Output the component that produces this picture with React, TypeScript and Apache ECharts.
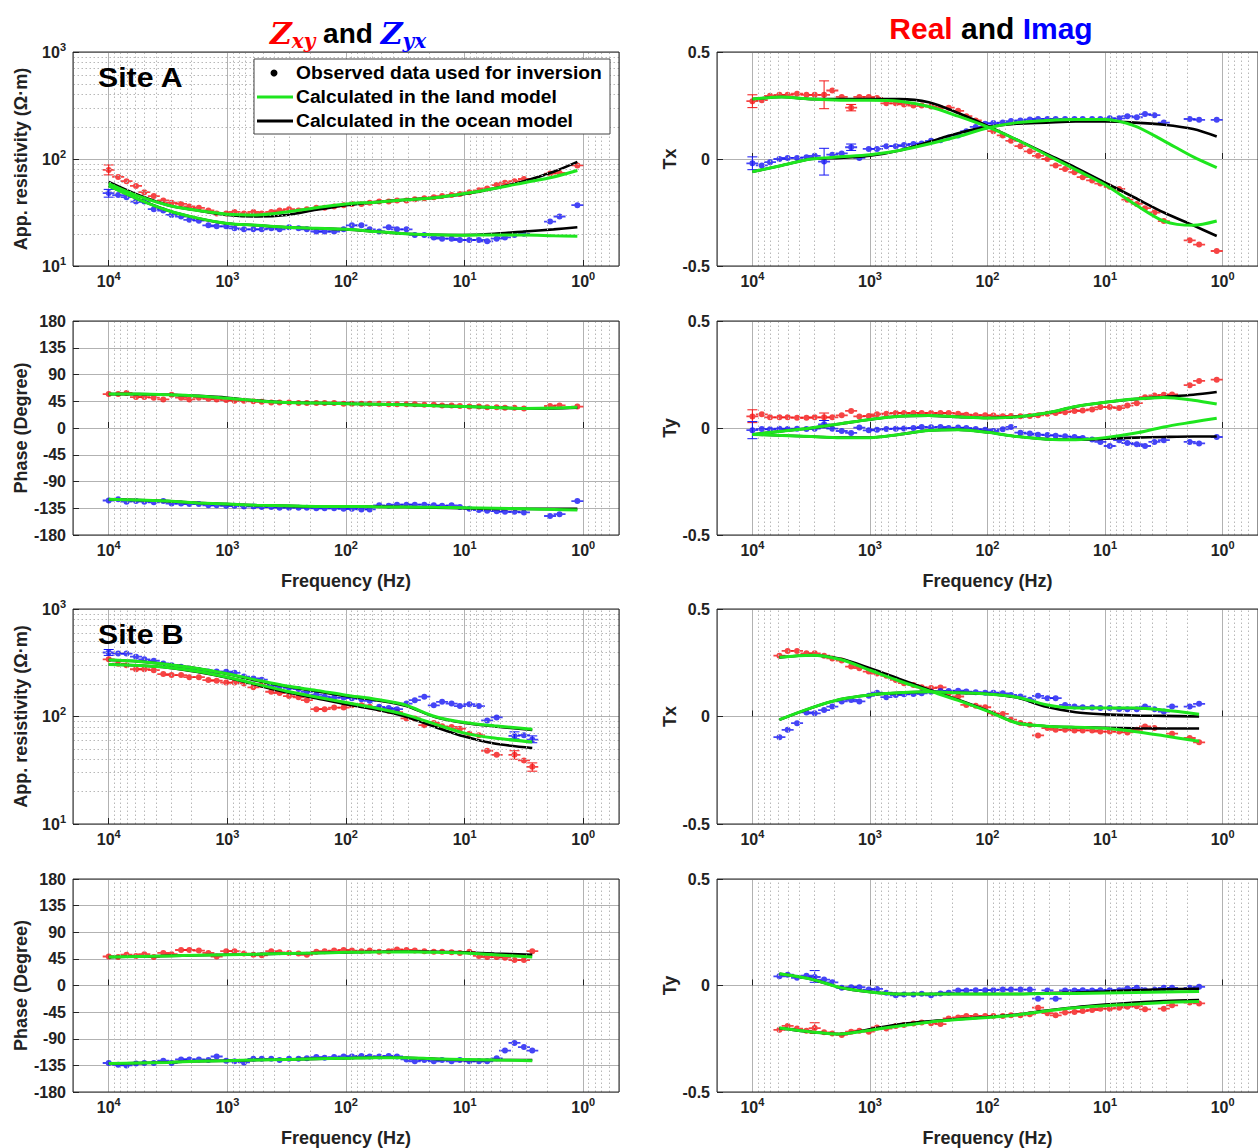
import React, { useEffect, useRef } from 'react';
import * as echarts from 'echarts';

// ---------- frequency grids (log10 Hz) ----------
const LOGF = [4.00, 3.92, 3.85, 3.77, 3.70, 3.62, 3.54, 3.47, 3.39, 3.32, 3.24, 3.16, 3.09, 3.01, 2.94, 2.86, 2.78, 2.71, 2.63, 2.56, 2.48, 2.40, 2.33, 2.25, 2.18, 2.10, 2.02, 1.95, 1.87, 1.80, 1.72, 1.64, 1.57, 1.49, 1.42, 1.34, 1.26, 1.19, 1.11, 1.04, 0.96, 0.88, 0.81, 0.73, 0.66, 0.58, 0.50, 0.43, 0.35, 0.28, 0.20, 0.12, 0.05];
const MODEL_LOGF_A = [4.0, 3.75, 3.5, 3.25, 3.0, 2.75, 2.5, 2.25, 2.0, 1.75, 1.5, 1.25, 1.0, 0.75, 0.5, 0.25, 0.05];
const MODEL_LOGF_B = [4.0, 3.75, 3.5, 3.25, 3.0, 2.75, 2.5, 2.25, 2.0, 1.75, 1.5, 1.25, 1.0, 0.75, 0.43];
const MODEL_LOGF_BT = [3.77, 3.5, 3.25, 3.0, 2.75, 2.5, 2.25, 2.0, 1.75, 1.5, 1.25, 1.0, 0.75, 0.5, 0.2];

// ---------- Site A observed ----------
const RHO_A_XY = [79, 68, 62, 56, 49, 45, 41, 39, 38, 36, 35, 33, 31, 31, 32, 31, 32, 31, 32, 33, 34, 33, 34, 35, 35, 36, 37, 38, 38, 39, 40, 40, 41, 41, 42, 43, 44, 45, 46, 47, 49, 51, 53, 57, 60, 62, 65, null, null, 73, 74, null, 87];
const RHO_A_YX = [48, 46, 44, 40, 40, 34, 33, 30, 29, 27, 26.5, 24, 23.5, 23.5, 22.5, 22, 22, 22, 22.5, 22, 23, 22.5, 22, 21, 21, 21, 22, 24, 24, 22, 21, 23, 22, 22, 19.5, 19.5, 18.5, 18, 18, 17.5, 17.5, 17.5, 17, 18, 18.5, 19.5, 20, null, null, 26, 29, null, 37];
const PHASE_A_XY = [57, 57, 59, 52, 52, 51, 48, 56, 51, 48, 51, 49, 48, 47, 46, 46, 45, 44, 43, 43, 43, 42, 42, 42, 42, 42, 41, 41, 41, 41, 41, 40, 40, 40, 40, 39, 39, 38, 38, 37, 36, 36, 35, 35, 34, 34, 33, null, null, 37, 38, null, 36];
const PHASE_A_YX = [-122, -120, -124, -123, -124, -125, -123, -127, -127, -128, -128, -130, -130, -131, -131, -132, -132, -133, -133, -134, -134, -134, -134, -135, -135, -135, -136, -136, -137, -137, -130, -131, -129, -129, -129, -129, -130, -131, -130, -133, -136, -138, -139, -140, -141, -141, -142, null, null, -148, -145, null, -123];
const TX_A_RE = [0.27, 0.275, 0.295, 0.30, 0.30, 0.305, 0.30, 0.30, 0.30, 0.32, 0.29, 0.24, 0.29, 0.29, 0.285, 0.26, 0.26, 0.255, 0.25, 0.25, 0.245, 0.24, 0.24, 0.225, 0.20, 0.18, 0.15, 0.13, 0.11, 0.085, 0.06, 0.036, 0.015, 0.0, -0.03, -0.047, -0.062, -0.085, -0.10, -0.115, -0.13, -0.14, -0.19, -0.21, -0.23, -0.25, -0.29, null, null, -0.38, -0.40, null, -0.43];
const TX_A_IM = [-0.02, -0.03, -0.015, 0.0, 0.005, 0.005, 0.008, 0.015, -0.012, 0.02, 0.026, 0.055, 0.005, 0.047, 0.047, 0.06, 0.06, 0.065, 0.07, 0.073, 0.085, 0.088, 0.1, 0.11, 0.13, 0.15, 0.165, 0.168, 0.17, 0.177, 0.18, 0.185, 0.187, 0.187, 0.187, 0.187, 0.187, 0.187, 0.187, 0.187, 0.19, 0.19, 0.2, 0.195, 0.21, 0.205, 0.17, null, null, 0.187, 0.183, null, 0.183];
const TY_A_RE = [0.054, 0.064, 0.05, 0.05, 0.05, 0.048, 0.048, 0.05, 0.05, 0.05, 0.059, 0.08, 0.054, 0.056, 0.064, 0.067, 0.07, 0.07, 0.07, 0.07, 0.07, 0.07, 0.07, 0.067, 0.062, 0.06, 0.06, 0.058, 0.055, 0.056, 0.055, 0.056, 0.059, 0.067, 0.07, 0.074, 0.079, 0.082, 0.087, 0.098, 0.098, 0.093, 0.105, 0.116, 0.144, 0.152, 0.155, 0.157, null, 0.2, 0.22, null, 0.226];
const TY_A_IM = [-0.01, -0.005, -0.006, -0.003, -0.005, -0.003, -0.005, -0.003, 0.017, -0.003, -0.014, -0.023, 0.002, -0.011, -0.008, -0.005, -0.003, -0.002, 0.0, 0.005, 0.003, 0.005, 0.0, 0.002, 0.0, -0.005, -0.008, -0.014, -0.006, 0.005, -0.022, -0.026, -0.031, -0.033, -0.036, -0.039, -0.042, -0.047, -0.054, -0.065, -0.084, -0.057, -0.07, -0.076, -0.084, -0.065, -0.057, null, null, -0.065, -0.072, null, -0.042];

// ---------- Site B observed ----------
const RHO_B_XY = [340, 310, 300, 275, 275, 270, 248, 243, 243, 232, 232, 218, 215, 207, 207, 203, 187, 196, 170, 165, 155, 151, 142, 117, 117, 121, 121, 127, 127, 123, 118, 113, 110, 96, 96, 83, 87, 81, 80, 77, 69, 67, 48, 44, null, 44, 39, 34, null, null, null, null, null];
const RHO_B_YX = [394, 385, 385, 360, 340, 330, 312, 300, 290, 280, 270, 262, 262, 261, 255, 235, 226, 220, 196, 190, 185, 180, 170, 160, 153, 150, 150, 148, 145, 140, 123, 120, 117, 132, 142, 153, 127, 137, 132, 125, 130, 125, 92, 98, null, 66, 67, 61, null, null, null, null, null];
const PHASE_B_XY = [49, 48, 52, 50, 53, 48, 55, 53, 60, 60, 59, 55, 49, 58, 58, 54, 52, 51, 58, 56, 55, 54, 52, 57, 58, 59, 60, 59, 58, 59, 57, 58, 61, 60, 59, 58, 57, 57, 56, 55, 57, 50, 48, 48, 47, 43, 43, 58, null, null, null, null, null];
const PHASE_B_YX = [-131, -134, -135, -132, -131, -131, -127, -131, -125, -125, -125, -126, -120, -127, -128, -130, -124, -124, -124, -126, -124, -124, -123, -121, -122, -121, -120, -120, -119, -120, -120, -119, -120, -125, -128, -126, -128, -126, -128, -126, -128, -128, -128, -123, -110, -97, -104, -110, null, null, null, null, null];
const TX_B_RE = [null, null, null, 0.283, 0.305, 0.305, 0.294, 0.294, 0.283, 0.27, 0.26, 0.232, 0.225, 0.209, 0.2, 0.189, 0.17, 0.155, 0.147, 0.136, 0.132, 0.135, 0.108, 0.093, 0.054, 0.05, 0.043, 0.015, 0.012, -0.015, -0.03, -0.038, -0.088, -0.054, -0.062, -0.062, -0.065, -0.065, -0.065, -0.07, -0.07, -0.07, -0.074, -0.062, -0.046, -0.054, null, -0.08, null, -0.1, -0.12, null, null];
const TX_B_IM = [null, null, null, -0.096, -0.062, -0.031, 0.019, 0.015, 0.03, 0.046, 0.07, 0.077, 0.07, 0.096, 0.111, 0.09, 0.1, 0.103, 0.105, 0.108, 0.115, 0.119, 0.119, 0.12, 0.116, 0.113, 0.111, 0.111, 0.108, 0.1, 0.093, 0.078, 0.096, 0.085, 0.085, 0.054, 0.046, 0.043, 0.042, 0.039, 0.039, 0.035, 0.034, 0.034, 0.046, 0.034, 0.023, 0.046, null, 0.046, 0.059, null, null];
const TY_B_RE = [null, null, null, -0.208, -0.19, -0.202, -0.212, -0.2, -0.22, -0.225, -0.232, -0.217, -0.212, -0.217, -0.197, -0.202, -0.19, -0.185, -0.178, -0.174, -0.177, -0.181, -0.155, -0.15, -0.143, -0.143, -0.143, -0.143, -0.143, -0.14, -0.14, -0.135, -0.104, -0.13, -0.14, -0.127, -0.124, -0.12, -0.115, -0.109, -0.109, -0.104, -0.1, -0.097, -0.112, null, -0.109, -0.093, null, -0.08, -0.084, null, null];
const TY_B_IM = [null, null, null, 0.043, 0.051, 0.036, 0.046, 0.04, 0.028, 0.015, -0.011, -0.008, -0.008, -0.019, -0.016, -0.034, -0.046, -0.042, -0.042, -0.039, -0.046, -0.037, -0.034, -0.023, -0.023, -0.022, -0.022, -0.022, -0.019, -0.019, -0.019, -0.019, -0.062, -0.023, -0.062, -0.023, -0.023, -0.022, -0.023, -0.022, -0.022, -0.022, -0.014, -0.011, -0.022, -0.019, -0.011, -0.011, null, -0.011, -0.006, null, null];

// ---------- error bars: [index in LOGF, low, high] ----------
const ERR_RHO_A_XY = [[0, 71, 88]];
const ERR_RHO_A_YX = [[0, 44, 52]];
const ERR_RHO_B_XY = [[45, 40, 48], [47, 31, 37]];
const ERR_RHO_B_YX = [[0, 370, 420], [45, 62, 72], [47, 57, 66]];
const ERR_TX_A_RE = [[0, 0.24, 0.30], [8, 0.235, 0.365], [11, 0.225, 0.255]];
const ERR_TX_A_IM = [[0, -0.05, 0.01], [8, -0.075, 0.05], [11, 0.04, 0.07]];
const ERR_TY_A_RE = [[0, 0.025, 0.085], [8, 0.035, 0.07]];
const ERR_TY_A_IM = [[0, -0.05, 0.03], [8, 0.0, 0.035]];
const ERR_TY_B_RE = [[7, -0.225, -0.175]];
const ERR_TY_B_IM = [[7, 0.015, 0.07]];

// ---------- model curves (land = green, ocean = black) ----------
const RHO_A_XY_LAND = [59, 45, 37, 33, 30.5, 30, 32, 35, 38, 39.5, 41.5, 43.5, 47.5, 53, 60, 68, 78];
const RHO_A_XY_OCEAN = [61, 46, 37, 33, 30, 29, 30, 33.5, 37, 39.5, 41.5, 43.5, 47, 53, 62, 76, 94];
const RHO_A_YX_LAND = [56, 42, 33, 28, 25, 24, 23, 22.5, 22, 21, 20, 19.6, 19.4, 19.5, 19.5, 19.2, 19];
const RHO_A_YX_OCEAN = [56, 42, 33, 28, 25, 24, 23, 22.5, 22, 21, 20, 19.6, 19.5, 20, 21, 22, 23];
const PHASE_A_XY_LAND = [57, 57, 56, 54, 50, 46, 43, 42, 41, 40, 39, 37.5, 36, 34.5, 33, 33.5, 35];
const PHASE_A_XY_OCEAN = [57, 57, 56, 54, 51, 46, 43, 42, 41, 40, 39, 37.5, 36, 34.5, 33, 33, 34];
const PHASE_A_YX_LAND = [-120, -121, -123, -126, -128, -130, -131, -132, -132, -132.5, -133, -133.5, -134, -135, -136, -137, -138];
const PHASE_A_YX_OCEAN = [-120, -121, -123, -126, -128, -130, -131, -132, -132, -132.5, -133, -134, -135, -136, -136, -136, -136];
const TX_A_RE_LAND = [0.28, 0.29, 0.28, 0.275, 0.275, 0.27, 0.245, 0.20, 0.15, 0.09, 0.02, -0.05, -0.12, -0.21, -0.29, -0.31, -0.29];
const TX_A_RE_OCEAN = [0.28, 0.29, 0.28, 0.28, 0.28, 0.28, 0.265, 0.215, 0.155, 0.09, 0.025, -0.04, -0.11, -0.18, -0.25, -0.31, -0.36];
const TX_A_IM_LAND = [-0.06, -0.03, 0.0, 0.01, 0.02, 0.04, 0.07, 0.105, 0.145, 0.17, 0.18, 0.185, 0.185, 0.155, 0.085, 0.01, -0.04];
const TX_A_IM_OCEAN = [-0.06, -0.03, 0.0, 0.005, 0.015, 0.04, 0.08, 0.12, 0.15, 0.165, 0.17, 0.175, 0.175, 0.17, 0.16, 0.14, 0.105];
const TY_A_RE_LAND = [-0.03, -0.015, 0.0, 0.02, 0.04, 0.055, 0.058, 0.052, 0.047, 0.052, 0.07, 0.1, 0.12, 0.135, 0.143, 0.13, 0.112];
const TY_A_RE_OCEAN = [-0.03, -0.015, 0.0, 0.02, 0.04, 0.055, 0.058, 0.052, 0.047, 0.052, 0.07, 0.1, 0.12, 0.135, 0.145, 0.155, 0.168];
const TY_A_IM_LAND = [-0.03, -0.035, -0.04, -0.045, -0.045, -0.03, -0.012, -0.008, -0.02, -0.04, -0.052, -0.055, -0.045, -0.025, 0.005, 0.028, 0.046];
const TY_A_IM_OCEAN = [-0.03, -0.035, -0.04, -0.045, -0.045, -0.03, -0.012, -0.008, -0.02, -0.04, -0.052, -0.055, -0.05, -0.045, -0.042, -0.04, -0.04];

const RHO_B_YX_LAND = [335, 325, 305, 280, 250, 218, 192, 175, 158, 145, 128, 100, 88, 82, 76];
const RHO_B_YX_OCEAN = [335, 325, 305, 280, 248, 215, 190, 172, 155, 142, 126, 99, 87, 81, 75];
const RHO_B_XY_LAND = [305, 298, 285, 262, 232, 200, 172, 152, 135, 120, 104, 85, 70, 63, 58];
const RHO_B_XY_OCEAN = [305, 298, 285, 260, 230, 196, 168, 148, 130, 116, 100, 80, 65, 56, 51];
const PHASE_B_XY_LAND = [48, 49, 50, 51, 52, 53, 54, 55, 56, 56.5, 57, 56, 55, 52, 48];
const PHASE_B_XY_OCEAN = [48, 49, 50, 51, 52, 53, 54, 55, 56, 57, 57.5, 57, 56, 54, 52];
const PHASE_B_YX_LAND = [-132, -131, -130, -128, -127, -126, -125, -124, -123, -122, -122, -124, -125, -126, -127];
const PHASE_B_YX_OCEAN = [-132, -131, -130, -128, -127, -126, -125, -124, -123, -122, -122, -124, -126, -126, -126];
const TX_B_RE_LAND = [0.275, 0.285, 0.265, 0.215, 0.165, 0.12, 0.075, 0.025, -0.03, -0.045, -0.05, -0.055, -0.07, -0.09, -0.115];
const TX_B_RE_OCEAN = [0.275, 0.285, 0.268, 0.225, 0.175, 0.125, 0.078, 0.027, -0.03, -0.045, -0.05, -0.052, -0.055, -0.056, -0.056];
const TX_B_IM_LAND = [-0.015, 0.04, 0.08, 0.1, 0.11, 0.115, 0.11, 0.105, 0.09, 0.055, 0.04, 0.04, 0.04, 0.03, 0.01];
const TX_B_IM_OCEAN = [-0.015, 0.04, 0.08, 0.1, 0.11, 0.115, 0.11, 0.105, 0.088, 0.045, 0.02, 0.01, 0.005, 0.003, 0.0];
const TY_B_IM_LAND = [0.055, 0.03, -0.01, -0.03, -0.04, -0.04, -0.04, -0.04, -0.04, -0.038, -0.037, -0.035, -0.033, -0.03, -0.028];
const TY_B_IM_OCEAN = [0.055, 0.03, -0.01, -0.03, -0.04, -0.04, -0.04, -0.04, -0.04, -0.036, -0.033, -0.028, -0.022, -0.018, -0.015];
const TY_B_RE_LAND = [-0.2, -0.218, -0.228, -0.21, -0.19, -0.172, -0.16, -0.15, -0.138, -0.12, -0.105, -0.095, -0.088, -0.08, -0.075];
const TY_B_RE_OCEAN = [-0.2, -0.218, -0.228, -0.205, -0.182, -0.168, -0.158, -0.148, -0.136, -0.118, -0.102, -0.09, -0.08, -0.073, -0.068];

// ---------- styling ----------
const RED = '#f41515';
const BLUE = '#1515f4';
const GREEN = '#1ee61e';
const BLACK = '#000000';
const FONT = '"Liberation Sans", Arial, Helvetica, sans-serif';
const AX = '#222222';
const MAJOR_GRID = '#b2b2b2';
const MINOR_GRID = '#b8b8b8';
const X_MIN = 0.5;
const X_MAX = 20000;

const COLS = [{ left: 73, width: 546 }, { left: 717, width: 550 }];
const ROWS = [{ top: 52, height: 214 }, { top: 321, height: 214 }, { top: 609, height: 215 }, { top: 879, height: 214 }];

const MARK = 'path://M0,3.1L3.3,3.1L3.3,4.9L0,4.9Z M8.7,3.1L12,3.1L12,4.9L8.7,4.9Z M3,4A3,3 0 1,1 9,4A3,3 0 1,1 3,4Z';

const hz = (lf: number) => Math.pow(10, lf);

const MINOR_X: number[] = [];
[-1, 0, 1, 2, 3].forEach((e) => {
  for (let m = 2; m <= 9; m++) {
    const v = m * Math.pow(10, e);
    if (v >= X_MIN && v < X_MAX) MINOR_X.push(v);
  }
});
const MINOR_Y_RHO: number[] = [];
[1, 2].forEach((e) => {
  for (let m = 2; m <= 9; m++) MINOR_Y_RHO.push(m * Math.pow(10, e));
});

type Obs = { v: (number | null)[]; c: string; err?: number[][] };
type Model = { f: number[]; v: number[]; c: string };
type Panel = { col: number; row: number; kind: 'rho' | 'phase' | 'tip'; yName: string; obs: Obs[]; models: Model[] };

const PANELS: Panel[] = [
  {
    col: 0, row: 0, kind: 'rho', yName: 'App. resistivity (Ω·m)',
    obs: [{ v: RHO_A_XY, c: RED, err: ERR_RHO_A_XY }, { v: RHO_A_YX, c: BLUE, err: ERR_RHO_A_YX }],
    models: [
      { f: MODEL_LOGF_A, v: RHO_A_XY_OCEAN, c: BLACK }, { f: MODEL_LOGF_A, v: RHO_A_YX_OCEAN, c: BLACK },
      { f: MODEL_LOGF_A, v: RHO_A_XY_LAND, c: GREEN }, { f: MODEL_LOGF_A, v: RHO_A_YX_LAND, c: GREEN },
    ],
  },
  {
    col: 0, row: 1, kind: 'phase', yName: 'Phase (Degree)',
    obs: [{ v: PHASE_A_XY, c: RED }, { v: PHASE_A_YX, c: BLUE }],
    models: [
      { f: MODEL_LOGF_A, v: PHASE_A_XY_OCEAN, c: BLACK }, { f: MODEL_LOGF_A, v: PHASE_A_YX_OCEAN, c: BLACK },
      { f: MODEL_LOGF_A, v: PHASE_A_XY_LAND, c: GREEN }, { f: MODEL_LOGF_A, v: PHASE_A_YX_LAND, c: GREEN },
    ],
  },
  {
    col: 0, row: 2, kind: 'rho', yName: 'App. resistivity (Ω·m)',
    obs: [{ v: RHO_B_XY, c: RED, err: ERR_RHO_B_XY }, { v: RHO_B_YX, c: BLUE, err: ERR_RHO_B_YX }],
    models: [
      { f: MODEL_LOGF_B, v: RHO_B_XY_OCEAN, c: BLACK }, { f: MODEL_LOGF_B, v: RHO_B_YX_OCEAN, c: BLACK },
      { f: MODEL_LOGF_B, v: RHO_B_XY_LAND, c: GREEN }, { f: MODEL_LOGF_B, v: RHO_B_YX_LAND, c: GREEN },
    ],
  },
  {
    col: 0, row: 3, kind: 'phase', yName: 'Phase (Degree)',
    obs: [{ v: PHASE_B_XY, c: RED }, { v: PHASE_B_YX, c: BLUE }],
    models: [
      { f: MODEL_LOGF_B, v: PHASE_B_XY_OCEAN, c: BLACK }, { f: MODEL_LOGF_B, v: PHASE_B_YX_OCEAN, c: BLACK },
      { f: MODEL_LOGF_B, v: PHASE_B_XY_LAND, c: GREEN }, { f: MODEL_LOGF_B, v: PHASE_B_YX_LAND, c: GREEN },
    ],
  },
  {
    col: 1, row: 0, kind: 'tip', yName: 'Tx',
    obs: [{ v: TX_A_RE, c: RED, err: ERR_TX_A_RE }, { v: TX_A_IM, c: BLUE, err: ERR_TX_A_IM }],
    models: [
      { f: MODEL_LOGF_A, v: TX_A_RE_OCEAN, c: BLACK }, { f: MODEL_LOGF_A, v: TX_A_IM_OCEAN, c: BLACK },
      { f: MODEL_LOGF_A, v: TX_A_RE_LAND, c: GREEN }, { f: MODEL_LOGF_A, v: TX_A_IM_LAND, c: GREEN },
    ],
  },
  {
    col: 1, row: 1, kind: 'tip', yName: 'Ty',
    obs: [{ v: TY_A_RE, c: RED, err: ERR_TY_A_RE }, { v: TY_A_IM, c: BLUE, err: ERR_TY_A_IM }],
    models: [
      { f: MODEL_LOGF_A, v: TY_A_RE_OCEAN, c: BLACK }, { f: MODEL_LOGF_A, v: TY_A_IM_OCEAN, c: BLACK },
      { f: MODEL_LOGF_A, v: TY_A_RE_LAND, c: GREEN }, { f: MODEL_LOGF_A, v: TY_A_IM_LAND, c: GREEN },
    ],
  },
  {
    col: 1, row: 2, kind: 'tip', yName: 'Tx',
    obs: [{ v: TX_B_RE, c: RED }, { v: TX_B_IM, c: BLUE }],
    models: [
      { f: MODEL_LOGF_BT, v: TX_B_RE_OCEAN, c: BLACK }, { f: MODEL_LOGF_BT, v: TX_B_IM_OCEAN, c: BLACK },
      { f: MODEL_LOGF_BT, v: TX_B_RE_LAND, c: GREEN }, { f: MODEL_LOGF_BT, v: TX_B_IM_LAND, c: GREEN },
    ],
  },
  {
    col: 1, row: 3, kind: 'tip', yName: 'Ty',
    obs: [{ v: TY_B_RE, c: RED, err: ERR_TY_B_RE }, { v: TY_B_IM, c: BLUE, err: ERR_TY_B_IM }],
    models: [
      { f: MODEL_LOGF_BT, v: TY_B_RE_OCEAN, c: BLACK }, { f: MODEL_LOGF_BT, v: TY_B_IM_OCEAN, c: BLACK },
      { f: MODEL_LOGF_BT, v: TY_B_RE_LAND, c: GREEN }, { f: MODEL_LOGF_BT, v: TY_B_IM_LAND, c: GREEN },
    ],
  },
];

const pow10Label = (v: number) => {
  const e = Math.log10(v);
  const r = Math.round(e);
  if (Math.abs(e - r) > 1e-6) return '';
  return `{b|10}{e|${r}}`;
};
const powRich = {
  b: { fontSize: 16, fontWeight: 'bold', fontFamily: FONT, color: AX, lineHeight: 22 },
  e: { fontSize: 11, fontWeight: 'bold', fontFamily: FONT, color: AX, lineHeight: 13, verticalAlign: 'top' },
};
const nameStyle = { fontSize: 18, fontWeight: 'bold', fontFamily: FONT, color: AX };
const plainLabel = { fontSize: 16, fontWeight: 'bold', fontFamily: FONT, color: AX, margin: 7 };

const errRender = (color: string) => (params: any, api: any) => {
  const x = api.value(0);
  const p1 = api.coord([x, api.value(1)]);
  const p2 = api.coord([x, api.value(2)]);
  const w = 5;
  const st = { stroke: color, lineWidth: 1 };
  return {
    type: 'group',
    children: [
      { type: 'line', shape: { x1: p1[0], y1: p1[1], x2: p2[0], y2: p2[1] }, style: st },
      { type: 'line', shape: { x1: p1[0] - w, y1: p1[1], x2: p1[0] + w, y2: p1[1] }, style: st },
      { type: 'line', shape: { x1: p2[0] - w, y1: p2[1], x2: p2[0] + w, y2: p2[1] }, style: st },
    ],
  };
};

function buildOption() {
  const grid: any[] = [];
  const xAxis: any[] = [];
  const yAxis: any[] = [];
  const series: any[] = [];

  PANELS.forEach((p, k) => {
    const col = COLS[p.col];
    const row = ROWS[p.row];
    grid.push({
      left: col.left, top: row.top, width: col.width, height: row.height,
      show: true, borderColor: '#262626', borderWidth: 1, backgroundColor: 'transparent', z: 10,
    });
    const showXName = p.row === 1 || p.row === 3;
    xAxis.push({
      type: 'log', logBase: 10, gridIndex: k, inverse: true, min: X_MIN, max: X_MAX,
      axisLine: { show: false },
      axisTick: { show: true, inside: true, length: 6, lineStyle: { color: AX } },
      axisLabel: { formatter: pow10Label, rich: powRich, margin: 4, showMinLabel: false, showMaxLabel: false },
      splitLine: { show: true, lineStyle: { color: MAJOR_GRID, width: 1 } },
      name: showXName ? 'Frequency (Hz)' : '', nameLocation: 'middle', nameGap: 37, nameTextStyle: nameStyle,
    });
    const yBase: any = {
      gridIndex: k,
      axisLine: { show: false },
      axisTick: { show: true, inside: true, length: 6, lineStyle: { color: AX } },
      splitLine: { show: true, lineStyle: { color: MAJOR_GRID, width: 1 } },
      name: p.yName, nameLocation: 'middle', nameGap: p.kind === 'tip' ? 38 : 43, nameTextStyle: nameStyle,
    };
    if (p.kind === 'rho') {
      yAxis.push({ ...yBase, type: 'log', logBase: 10, min: 10, max: 1000, axisLabel: { formatter: pow10Label, rich: powRich, margin: 7 } });
    } else if (p.kind === 'phase') {
      yAxis.push({ ...yBase, type: 'value', min: -180, max: 180, interval: 45, axisLabel: plainLabel });
    } else {
      yAxis.push({
        ...yBase, type: 'value', min: -0.5, max: 0.5, interval: 0.5,
        axisLabel: { ...plainLabel, formatter: (v: number) => (Math.abs(v) < 1e-9 ? '0' : v.toFixed(1)) },
      });
    }

    // minor (dotted) grid lines
    const mlData: any[] = MINOR_X.map((v) => ({ xAxis: v }));
    if (p.kind === 'rho') MINOR_Y_RHO.forEach((v) => mlData.push({ yAxis: v }));
    series.push({
      type: 'line', xAxisIndex: k, yAxisIndex: k, data: [], silent: true, z: 1,
      markLine: {
        silent: true, symbol: ['none', 'none'], label: { show: false }, animation: false,
        emphasis: { disabled: true },
        lineStyle: { color: MINOR_GRID, type: [1.5, 2.5], width: 1 },
        data: mlData,
      },
    });

    p.obs.forEach((o) => {
      const data = LOGF.map((lf, i) => (o.v[i] == null ? null : [hz(lf), o.v[i]])).filter((d) => d);
      series.push({
        type: 'scatter', xAxisIndex: k, yAxisIndex: k, symbol: MARK, symbolSize: [12, 6],
        itemStyle: { color: o.c }, z: 3, silent: true, data,
      });
      if (o.err) {
        series.push({
          type: 'custom', xAxisIndex: k, yAxisIndex: k, z: 3, silent: true,
          encode: { x: 0, y: [1, 2] },
          data: o.err.map(([i, lo, hi]) => [hz(LOGF[i]), lo, hi]),
          renderItem: errRender(o.c),
        });
      }
    });

    p.models.forEach((m) => {
      series.push({
        type: 'line', xAxisIndex: k, yAxisIndex: k, showSymbol: false, smooth: 0.3, silent: true,
        data: m.f.map((lf, i) => [hz(lf), m.v[i]]),
        lineStyle: { color: m.c, width: m.c === GREEN ? 3 : 2.6 },
        itemStyle: { color: m.c },
        z: m.c === GREEN ? 5 : 4,
      });
    });
  });

  const titleL = {
    z: { fill: '#ff0000', fontFamily: '"DejaVu Serif", serif', fontStyle: 'italic', fontWeight: 'bold', fontSize: 30, lineHeight: 36 },
    zs: { fill: '#ff0000', fontFamily: '"DejaVu Serif", serif', fontStyle: 'italic', fontWeight: 'bold', fontSize: 20, lineHeight: 22, verticalAlign: 'bottom' },
    a: { fill: '#000000', fontFamily: FONT, fontWeight: 'bold', fontSize: 28, lineHeight: 36 },
    bz: { fill: '#0000ff', fontFamily: '"DejaVu Serif", serif', fontStyle: 'italic', fontWeight: 'bold', fontSize: 30, lineHeight: 36 },
    bs: { fill: '#0000ff', fontFamily: '"DejaVu Serif", serif', fontStyle: 'italic', fontWeight: 'bold', fontSize: 20, lineHeight: 22, verticalAlign: 'bottom' },
  };
  const titleR = {
    r: { fill: '#ff0000', fontFamily: FONT, fontWeight: 'bold', fontSize: 30, lineHeight: 36 },
    k: { fill: '#000000', fontFamily: FONT, fontWeight: 'bold', fontSize: 30, lineHeight: 36 },
    i: { fill: '#0000ff', fontFamily: FONT, fontWeight: 'bold', fontSize: 30, lineHeight: 36 },
  };
  const legendFont = `bold 18px ${FONT}`;

  const graphic: any[] = [
    {
      type: 'text', x: 348, y: 33, z: 100,
      style: { text: '{z|Z}{zs|xy}{a| and }{bz|Z}{bs|yx}', rich: titleL, align: 'center', verticalAlign: 'middle', textAlign: 'center', textVerticalAlign: 'middle' },
    },
    {
      type: 'text', x: 991, y: 28, z: 100,
      style: { text: '{r|Real}{k| and }{i|Imag}', rich: titleR, align: 'center', verticalAlign: 'middle', textAlign: 'center', textVerticalAlign: 'middle' },
    },
    {
      type: 'text', x: 98, y: 78, z: 100, scaleX: 1.12,
      style: { text: 'Site A', font: `bold 27px ${FONT}`, fill: '#000', align: 'left', verticalAlign: 'middle', textAlign: 'left', textVerticalAlign: 'middle' },
    },
    {
      type: 'text', x: 98, y: 635, z: 100, scaleX: 1.12,
      style: { text: 'Site B', font: `bold 27px ${FONT}`, fill: '#000', align: 'left', verticalAlign: 'middle', textAlign: 'left', textVerticalAlign: 'middle' },
    },
    // legend box
    { type: 'rect', z: 100, shape: { x: 254, y: 59, width: 356, height: 75 }, style: { fill: '#ffffff', stroke: '#444444', lineWidth: 1 } },
    { type: 'circle', z: 101, shape: { cx: 274, cy: 73, r: 3.5 }, style: { fill: '#000' } },
    { type: 'line', z: 101, shape: { x1: 257, y1: 97, x2: 293, y2: 97 }, style: { stroke: GREEN, lineWidth: 3 } },
    { type: 'line', z: 101, shape: { x1: 257, y1: 121, x2: 293, y2: 121 }, style: { stroke: BLACK, lineWidth: 3 } },
    { type: 'text', z: 101, x: 296, y: 73, scaleX: 1.07, style: { text: 'Observed data used for inversion', font: legendFont, fill: '#000', align: 'left', verticalAlign: 'middle', textAlign: 'left', textVerticalAlign: 'middle' } },
    { type: 'text', z: 101, x: 296, y: 97, scaleX: 1.07, style: { text: 'Calculated in the land model', font: legendFont, fill: '#000', align: 'left', verticalAlign: 'middle', textAlign: 'left', textVerticalAlign: 'middle' } },
    { type: 'text', z: 101, x: 296, y: 121, scaleX: 1.07, style: { text: 'Calculated in the ocean model', font: legendFont, fill: '#000', align: 'left', verticalAlign: 'middle', textAlign: 'left', textVerticalAlign: 'middle' } },
  ];

  return {
    animation: false,
    backgroundColor: '#ffffff',
    grid, xAxis, yAxis, series, graphic,
  };
}

export default function App() {
  const ref = useRef<HTMLDivElement>(null);
  useEffect(() => {
    document.body.style.margin = '0';
    const chart = echarts.init(ref.current as HTMLDivElement, null, { renderer: 'svg' });
    chart.setOption(buildOption() as any);
    return () => chart.dispose();
  }, []);
  return <div ref={ref} style={{ width: 1258, height: 1148, background: '#fff' }} />;
}
